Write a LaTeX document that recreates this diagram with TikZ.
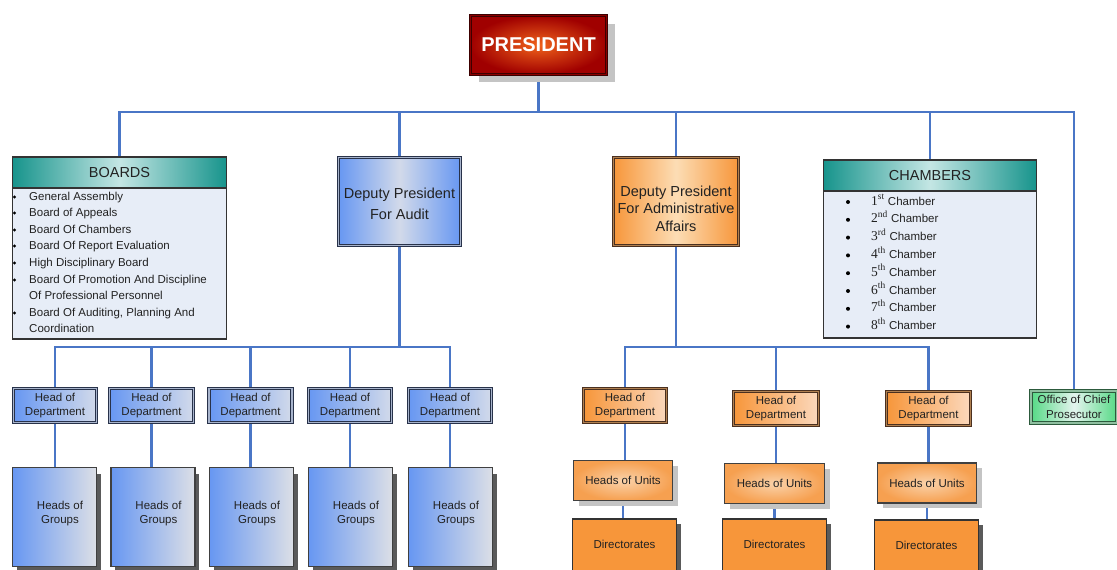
\documentclass[tikz,border=0pt]{standalone}
\usepackage{fontspec}
\setmainfont{Liberation Sans}
\newfontfamily\serifnum{Liberation Serif}
\usetikzlibrary{shadows,backgrounds}
\definecolor{linkblue}{HTML}{4A76C6}
\definecolor{navyedge}{HTML}{28324A}
\definecolor{navyin}{HTML}{A8B4CC}
\definecolor{bluedark}{HTML}{6797F2}
\definecolor{bluelight}{HTML}{D2DAEA}
\definecolor{bluegray}{HTML}{DCDFE6}
\definecolor{orange1}{HTML}{F7963A}
\definecolor{orangelight}{HTML}{FCDDB5}
\definecolor{peach}{HTML}{FBD8BC}
\definecolor{unitin}{HTML}{FAD2AA}
\definecolor{unitout}{HTML}{F6A050}
\definecolor{brownedgec}{HTML}{4A3020}
\definecolor{brownin}{HTML}{B08050}
\definecolor{teal1}{HTML}{17948C}
\definecolor{teallight}{HTML}{C4E6E4}
\definecolor{panel}{HTML}{E7EDF7}
\definecolor{green1}{HTML}{55D985}
\definecolor{greenlight}{HTML}{E4F4EE}
\definecolor{greenedgec}{HTML}{2C5A3C}
\definecolor{greenin}{HTML}{8FBFA0}
\definecolor{redout}{HTML}{A00000}
\definecolor{redin}{HTML}{F0621A}
\definecolor{rededge}{HTML}{3C0000}
\definecolor{redmid}{HTML}{8A0000}
\definecolor{shadowgray}{HTML}{C4C4C4}
\definecolor{darkshadow}{HTML}{5A5A5A}
\definecolor{inkc}{HTML}{222222}
\begin{document}
\begin{tikzpicture}[x=1pt,y=-1pt,
  conn/.style={draw=linkblue,line width=2.8pt},
  small/.style={font=\fontsize{11.5}{14.5}\selectfont},
  txt/.style={small,align=center,inner sep=0pt,text=inkc},
  blueedge/.style={draw=navyedge,double=navyin,double distance=1.3pt,line width=1pt},
  brownedge/.style={draw=brownedgec,double=brownin,double distance=1.3pt,line width=1pt},
  greenedge/.style={draw=greenedgec,double=greenin,double distance=1.3pt,line width=1pt},
  presbox/.style={draw=rededge,double=redmid,double distance=1.4pt,line width=1pt,
    inner color=redin,outer color=redout,minimum width=136pt,minimum height=58.5pt,
    font=\bfseries\fontsize{20}{20}\selectfont,text=white,
    drop shadow={shadow xshift=8pt,shadow yshift=-8pt,fill=shadowgray,opacity=1}},
  panelbox/.style={draw=black!80,line width=1.3pt,fill=panel},
  headbox/.style={draw=black!80,line width=1.3pt,left color=teal1,right color=teal1,
    middle color=teallight,font=\fontsize{14.5}{16}\selectfont,text=inkc},
  item/.style={small,anchor=west,inner sep=0pt,text height=8.5pt,text depth=2.5pt,text=inkc},
  bullet/.style={circle,fill=black,inner sep=0pt,minimum size=#1},
  bluedep/.style={blueedge,left color=bluedark,right color=bluedark,middle color=bluelight,
    minimum width=122pt,minimum height=88pt},
  ordep/.style={brownedge,left color=orange1,right color=orange1,middle color=orangelight,
    minimum width=125pt,minimum height=88pt},
  deptext/.style={txt,font=\fontsize{14.5}{21.5}\selectfont},
  bluehod/.style={blueedge,left color=bluedark,right color=bluelight,txt,
    minimum width=83pt,minimum height=34pt},
  grp/.style={draw=black!75,line width=1.2pt,left color=bluedark,right color=bluegray,
    minimum width=84pt,minimum height=99pt,
    drop shadow={shadow xshift=4pt,shadow yshift=-6pt,fill=darkshadow,opacity=1}},
  orhod/.style={brownedge,left color=orange1,right color=peach,txt,
    minimum width=83pt,minimum height=34pt},
  unitbox/.style={draw=black!75,line width=1.2pt,inner color=unitin,outer color=unitout,txt,
    minimum width=99pt,minimum height=40pt,
    drop shadow={shadow xshift=5pt,shadow yshift=-5pt,fill=shadowgray,opacity=1}},
  dirbox/.style={draw=black!80,line width=1.2pt,fill=orange1,
    minimum width=104pt,minimum height=70pt,
    drop shadow={shadow xshift=4pt,shadow yshift=-5pt,fill=darkshadow,opacity=1}},
  prosbox/.style={greenedge,left color=green1,right color=green1,middle color=greenlight,txt,
    minimum width=86pt,minimum height=32pt}
]
\useasboundingbox (0,0) rectangle (1117,570);
\clip (0,0) rectangle (1117,570);

% President
\node[presbox] (pres) at (538.5,45) {PRESIDENT};

% Boards
\node[panelbox,minimum width=214pt,minimum height=181pt] (boards) at (119.5,248.5) {};
\node[headbox,minimum width=214pt,minimum height=31pt] (boardshead) at (119.5,172.5) {BOARDS};
\foreach \y/\t/\b [count=\k] in {197/General Assembly/1,213/Board of Appeals/1,230/Board Of Chambers/1,
  246/Board Of Report Evaluation/1,263/High Disciplinary Board/1,280/Board Of Promotion And Discipline/1,
  296/Of Professional Personnel/0,313/{Board Of Auditing, Planning And}/1,329/Coordination/0}{
  \node[item] (bi\k) at (29,\y) {\t};
  \ifnum\b=1 \node[bullet=3.2pt] (bb\k) at (14.5,\y) {};\fi
}

% Deputies
\node[bluedep] (audit) at (399.5,201.5) {};
\node[deptext] (audittext) at (399.5,204) {Deputy President\\For Audit};
\node[ordep] (admin) at (676,201.5) {};
\node[deptext,font=\fontsize{14.5}{17.5}\selectfont] (admintext) at (676,208.5) {Deputy President\\For Administrative\\Affairs};

% Chambers
\node[panelbox,minimum width=213pt,minimum height=178pt] (chambers) at (930,249) {};
\node[headbox,minimum width=213pt,minimum height=31pt] (chamhead) at (930,175.5) {CHAMBERS};
\foreach \n/\s [count=\i from 0] in {1/st,2/nd,3/rd,4/th,5/th,6/th,7/th,8/th}{
  \node[bullet=4pt] (cb\n) at (848,{202+17.8*\i}) {};
  \node[item] (ci\n) at (871,{202+17.8*\i}) {{\serifnum\fontsize{13.5}{14}\selectfont \n\textsuperscript{\s}} Chamber};
}

% Audit branch
\foreach \x/\w [count=\i] in {55/83,151.5/84,250.5/83,350/83,450/83}{
  \node[bluehod,minimum width=\w pt] (hd\i) at (\x,405.5) {Head of\\Department};
}
\foreach \x [count=\i] in {54.5,153,251.5,350.5,450.5}{
  \node[grp] (g\i) at (\x,517) {};
  \node[txt,xshift=5.5pt,yshift=3.5pt] (gt\i) at (g\i) {Heads of\\Groups};
}

% Admin branch
\node[orhod] (ho1) at (625,405.5) {Head of\\Department};
\node[orhod,minimum width=85pt] (ho2) at (776,408.5) {Head of\\Department};
\node[orhod,minimum width=84pt] (ho3) at (928.5,408.5) {Head of\\Department};
\node[unitbox] (u1) at (623,480.5) {Heads of Units};
\node[unitbox,minimum width=100pt] (u2) at (774.5,483.5) {Heads of Units};
\node[unitbox] (u3) at (927,483) {Heads of Units};
\node[dirbox] (d1) at (624.5,554) {};
\node[dirbox] (d2) at (774.5,554) {};
\node[dirbox] (d3) at (926.5,555) {};
\node[txt] (dt1) at (624.5,544.3) {Directorates};
\node[txt] (dt2) at (774.5,544.3) {Directorates};
\node[txt] (dt3) at (926.5,545.5) {Directorates};

% Prosecutor
\node[prosbox] (prosec) at (1074,407) {Office of Chief\\Prosecutor};

% Connectors
\begin{pgfonlayer}{background}
\coordinate (bus) at (538,112);
\coordinate (abus) at (400,347);
\draw[conn] (pres.south) -- (pres.south |- bus);
\draw[conn] (boardshead.north) -- (boardshead.north |- bus) -- (prosec.north |- bus) -- (prosec.north);
\foreach \n in {audit,admin,chamhead} \draw[conn] (\n.north |- bus) -- (\n.north);
\draw[conn] (audit.south) -- (audit.south |- abus);
\draw[conn] (hd1.north) -- (hd1.north |- abus) -- (hd5.north |- abus) -- (hd5.north);
\foreach \i in {2,3,4} \draw[conn] (hd\i.north |- abus) -- (hd\i.north);
\foreach \i in {1,...,5} \draw[conn] (hd\i.south) -- (hd\i.south |- g\i.north);
\draw[conn] (admin.south) -- (admin.south |- abus);
\draw[conn] (ho1.north) -- (ho1.north |- abus) -- (ho3.north |- abus) -- (ho3.north);
\draw[conn] (ho2.north |- abus) -- (ho2.north);
\foreach \i in {1,2,3}{
  \draw[conn] (ho\i.south) -- (ho\i.south |- u\i.north);
  \draw[conn] (u\i.south) -- (u\i.south |- d\i.north);
}
\end{pgfonlayer}
\end{tikzpicture}
\end{document}
